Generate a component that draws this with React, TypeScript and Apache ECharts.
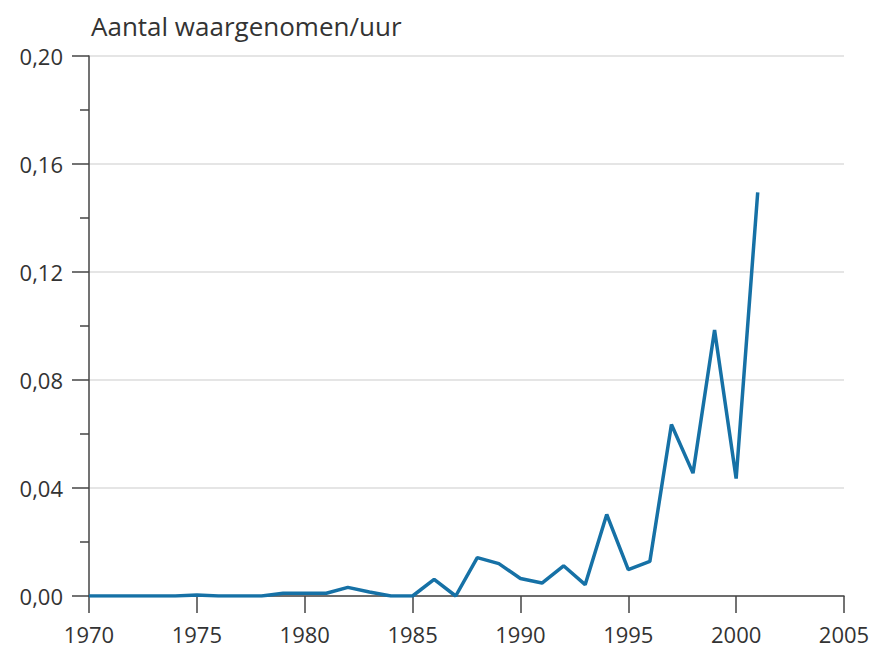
import React, { useEffect, useRef } from "react";
import * as echarts from "echarts";

const years: number[] = [
  1970, 1971, 1972, 1973, 1974, 1975, 1976, 1977, 1978, 1979, 1980,
  1981, 1982, 1983, 1984, 1985, 1986, 1987, 1988, 1989, 1990, 1991,
  1992, 1993, 1994, 1995, 1996, 1997, 1998, 1999, 2000, 2001,
];
const values: number[] = [
  0, 0, 0, 0, 0, 0.0004, 0, 0, 0, 0.001, 0.001,
  0.001, 0.0032, 0.0015, 0, 0, 0.0062, 0, 0.0142, 0.012, 0.0065, 0.0048,
  0.0112, 0.0042, 0.0302, 0.0098, 0.0128, 0.0635, 0.0455, 0.0985, 0.0435, 0.1495,
];
const yTicks = { min: 0, max: 0.2, interval: 0.04 };
const xTicks = { min: 1970, max: 2005, interval: 5 };
const title = "Aantal waargenomen/uur";

export default function App() {
  const ref = useRef<HTMLDivElement>(null);
  useEffect(() => {
    if (!ref.current) return;
    const chart = echarts.init(ref.current, null, { renderer: "svg" });
    const font = "'Open Sans', 'Noto Sans', sans-serif";
    chart.setOption({
      animation: false,
      backgroundColor: "#ffffff",
      title: {
        text: title,
        left: 86,
        top: 8,
        textStyle: { fontFamily: font, fontSize: 26, fontWeight: "normal", color: "#333333" },
      },
      grid: { left: 89, right: 31, top: 56, bottom: 52 },
      xAxis: {
        type: "value",
        min: xTicks.min,
        max: xTicks.max,
        interval: xTicks.interval,
        axisLine: { show: true, lineStyle: { color: "#444444", width: 1.5 } },
        axisTick: { show: true, length: 17, lineStyle: { color: "#444444", width: 1.5 } },
        axisLabel: {
          margin: 27,
          fontFamily: font,
          fontSize: 22,
          color: "#333333",
          formatter: (v: number) => String(v),
        },
        splitLine: { show: false },
      },
      yAxis: {
        type: "value",
        min: yTicks.min,
        max: yTicks.max,
        interval: yTicks.interval,
        axisLine: { show: true, lineStyle: { color: "#444444", width: 1.5 } },
        axisTick: { show: true, length: 17, lineStyle: { color: "#444444", width: 1.5 } },
        minorTick: { show: true, splitNumber: 2, length: 9, lineStyle: { color: "#444444", width: 1.5 } },
        axisLabel: {
          margin: 26,
          fontFamily: font,
          fontSize: 22,
          color: "#333333",
          formatter: (v: number) => v.toFixed(2).replace(".", ","),
        },
        splitLine: { show: true, lineStyle: { color: "#dddddd", width: 1.5 } },
      },
      series: [
        {
          type: "line",
          data: years.map((y, i) => [y, values[i]]),
          showSymbol: false,
          symbol: "none",
          lineStyle: { color: "#1671a6", width: 3.5 },
        },
      ],
    });
    return () => chart.dispose();
  }, []);
  return (
    <div
      ref={ref}
      style={{ position: "fixed", left: 0, top: 0, width: 875, height: 648 }}
    />
  );
}
